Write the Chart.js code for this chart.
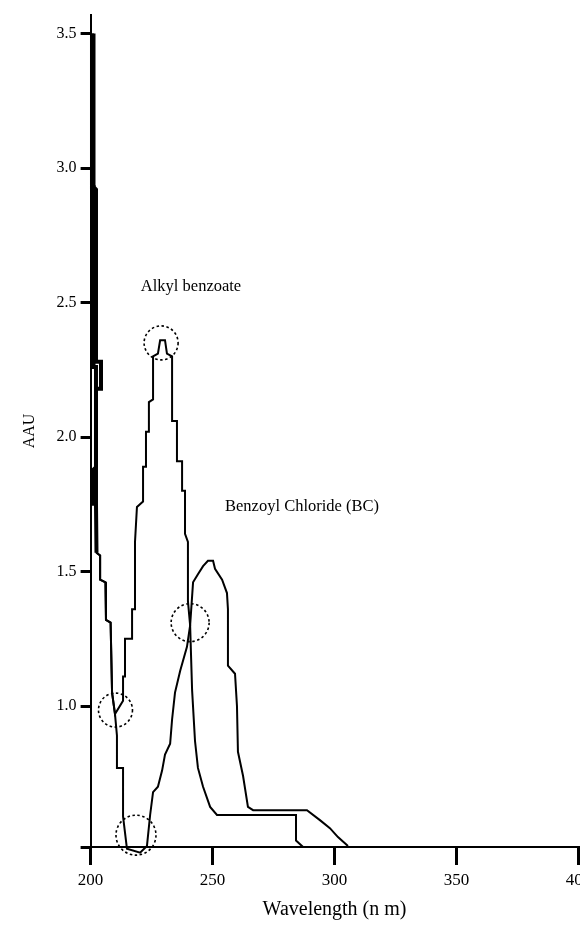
<!DOCTYPE html>
<html>
<head>
<meta charset="utf-8">
<style>
  html, body { margin: 0; padding: 0; background: #fff; overflow: hidden; }
  #wrap { position: absolute; left: 0; top: 0; width: 600px; height: 931px; }
</style>
<script src="https://cdn.jsdelivr.net/npm/chart.js@4.4.1/dist/chart.umd.min.js"></script>
</head>
<body>
<div id="wrap"><canvas id="c" width="600" height="931"></canvas></div>
<script>
// ---- Data ----
const xTickValues = [200, 250, 300, 350, 400];
const xTickLabels = ['200', '250', '300', '350', '400'];
const yTickValues = [1.0, 1.5, 2.0, 2.5, 3.0, 3.5];
const yTickLabels = ['1.0', '1.5', '2.0', '2.5', '3.0', '3.5'];

// Benzoyl Chloride (BC) trace
const bcWavelength = [200.57, 200.57, 201.19, 201.19, 202.21, 202.21, 200.98, 200.98, 202.42, 202.42, 203.9, 203.9, 206.1, 206.3, 208.2, 208.8, 210.0, 210.8, 210.8, 213.3, 213.3, 214.9, 220.3, 223.1, 224.4, 225.6, 227.6, 229.3, 230.5, 232.6, 233.4, 234.6, 236.7, 239.5, 240.8, 242.0, 244.0, 246.1, 248.1, 250.2, 251.0, 253.9, 255.9, 256.3, 256.3, 259.2, 260.0, 260.4, 262.5, 264.5, 266.6, 288.7, 294.0, 298.1, 301.4, 305.5];
const bcAbsorbance = [3.50, 2.93, 2.93, 2.26, 2.26, 1.89, 1.88, 1.75, 1.75, 1.57, 1.56, 1.47, 1.46, 1.32, 1.31, 1.05, 0.97, 0.89, 0.77, 0.77, 0.59, 0.47, 0.455, 0.48, 0.595, 0.68, 0.70, 0.76, 0.82, 0.86, 0.95, 1.05, 1.13, 1.22, 1.30, 1.46, 1.49, 1.52, 1.54, 1.54, 1.51, 1.47, 1.42, 1.36, 1.15, 1.12, 1.00, 0.83, 0.74, 0.625, 0.613, 0.613, 0.576, 0.546, 0.513, 0.48];

// Alkyl benzoate trace
const abWavelength = [201.19, 201.19, 202.21, 202.21, 204.26, 204.26, 202.21, 202.21, 202.42, 203.9, 203.9, 206.1, 206.3, 208.2, 208.8, 210.0, 213.3, 213.3, 214.1, 214.1, 217.0, 217.0, 218.2, 218.2, 219.0, 221.5, 221.5, 222.7, 222.7, 223.9, 223.9, 225.6, 225.6, 227.6, 228.5, 230.5, 231.3, 233.4, 233.4, 235.4, 235.4, 237.5, 237.5, 238.7, 238.7, 239.9, 239.9, 240.8, 241.6, 242.8, 244.0, 246.1, 249.0, 251.8, 284.2, 284.2, 287.1];
const abAbsorbance = [3.50, 2.93, 2.92, 2.28, 2.28, 2.18, 2.18, 1.75, 1.57, 1.56, 1.47, 1.46, 1.32, 1.31, 1.05, 0.97, 1.02, 1.11, 1.11, 1.25, 1.25, 1.36, 1.36, 1.61, 1.74, 1.76, 1.89, 1.89, 2.02, 2.02, 2.13, 2.14, 2.30, 2.31, 2.36, 2.36, 2.31, 2.30, 2.06, 2.06, 1.91, 1.91, 1.80, 1.80, 1.64, 1.61, 1.39, 1.30, 1.06, 0.87, 0.77, 0.70, 0.625, 0.595, 0.595, 0.50, 0.476];

// Dashed circles marking crossing points
const circleWavelength = [210.2, 228.9, 240.8, 218.6];
const circleAbsorbance = [0.985, 2.35, 1.31, 0.52];

// Text labels
const noteTexts = ['Alkyl benzoate', 'Benzoyl Chloride (BC)'];
const noteWavelength = [220.6, 255.1];
const noteAbsorbance = [2.56, 1.74];

const yMin = 0.476, yMax = 3.569;

function pts(xs, ys) { return xs.map((x, i) => ({ x: x, y: ys[i] })); }

const FONT = '"Liberation Serif", "DejaVu Serif", serif';

const dashPlugin = {
  id: 'dashCircles',
  beforeDatasetDraw(chart, args) {
    if (args.index === 2) { chart.ctx.save(); chart.ctx.setLineDash([2.5, 2.5]); }
  },
  afterDatasetDraw(chart, args) {
    if (args.index === 2) { chart.ctx.restore(); }
  }
};

const notePlugin = {
  id: 'notes',
  afterDatasetsDraw(chart) {
    const ctx = chart.ctx;
    const xs = chart.scales.x, ys = chart.scales.y;
    ctx.save();
    ctx.fillStyle = '#000';
    ctx.font = '16.5px ' + FONT;
    ctx.textAlign = 'left';
    ctx.textBaseline = 'middle';
    noteTexts.forEach((t, i) => {
      ctx.fillText(t, xs.getPixelForValue(noteWavelength[i]), ys.getPixelForValue(noteAbsorbance[i]));
    });
    ctx.restore();
  }
};

new Chart(document.getElementById('c'), {
  type: 'line',
  data: {
    datasets: [
      { label: 'Benzoyl Chloride (BC)', data: pts(bcWavelength, bcAbsorbance),
        borderColor: '#000', borderWidth: 2, pointRadius: 0, tension: 0, clip: false,
        segment: { borderWidth: c => (c.p0DataIndex < 5 ? 4 : (c.p0DataIndex < 8 ? 3 : 2)) } },
      { label: 'Alkyl benzoate', data: pts(abWavelength, abAbsorbance),
        borderColor: '#000', borderWidth: 2, pointRadius: 0, tension: 0, clip: false,
        segment: { borderWidth: c => (c.p0DataIndex < 8 ? 4 : 2) } },
      { label: 'circles', data: pts(circleWavelength, circleAbsorbance), showLine: false,
        pointStyle: 'circle', pointRadius: [17, 17, 19, 20], pointBorderWidth: 1.6,
        pointBorderColor: '#000', pointBackgroundColor: 'rgba(0,0,0,0)', clip: false }
    ]
  },
  options: {
    responsive: false,
    animation: false,
    devicePixelRatio: 1,
    layout: { autoPadding: false, padding: { top: 15, right: 21.5, left: 0, bottom: 0 } },
    plugins: { legend: { display: false }, tooltip: { enabled: false } },
    scales: {
      x: {
        type: 'linear', min: 200, max: 400,
        afterFit(s) { s.height = 84; s.paddingLeft = 0; s.paddingRight = 0; },
        afterBuildTicks(s) { s.ticks = xTickValues.map(v => ({ value: v })); },
        ticks: {
          color: '#000', font: { family: FONT, size: 17 }, padding: 5, maxRotation: 0,
          callback(v) { const i = xTickValues.indexOf(v); return i >= 0 ? xTickLabels[i] : ''; }
        },
        grid: { drawOnChartArea: false, drawTicks: true, tickLength: 18, lineWidth: 3, color: '#000' },
        border: { display: true, color: '#000', width: 2 },
        title: { display: true, text: 'Wavelength (n m)', color: '#000',
                 font: { family: FONT, size: 20 }, padding: { top: 0, bottom: 9 } }
      },
      y: {
        type: 'linear', min: yMin, max: yMax,
        afterFit(s) { s.width = 90.6; s.paddingTop = 0; s.paddingBottom = 0; },
        afterBuildTicks(s) { s.ticks = [{ value: yMin }].concat(yTickValues.map(v => ({ value: v }))); },
        ticks: {
          color: '#000', font: { family: FONT, size: 16 }, padding: 4,
          callback(v) { const i = yTickValues.indexOf(v); return i >= 0 ? yTickLabels[i] : ''; }
        },
        grid: { drawOnChartArea: false, drawTicks: true, tickLength: 10, lineWidth: 3, color: '#000' },
        border: { display: true, color: '#000', width: 2 },
        title: { display: true, text: 'AAU', color: '#000',
                 font: { family: FONT, size: 16 }, padding: { top: 20, bottom: 0 } }
      }
    }
  },
  plugins: [dashPlugin, notePlugin]
});
</script>
</body>
</html>
